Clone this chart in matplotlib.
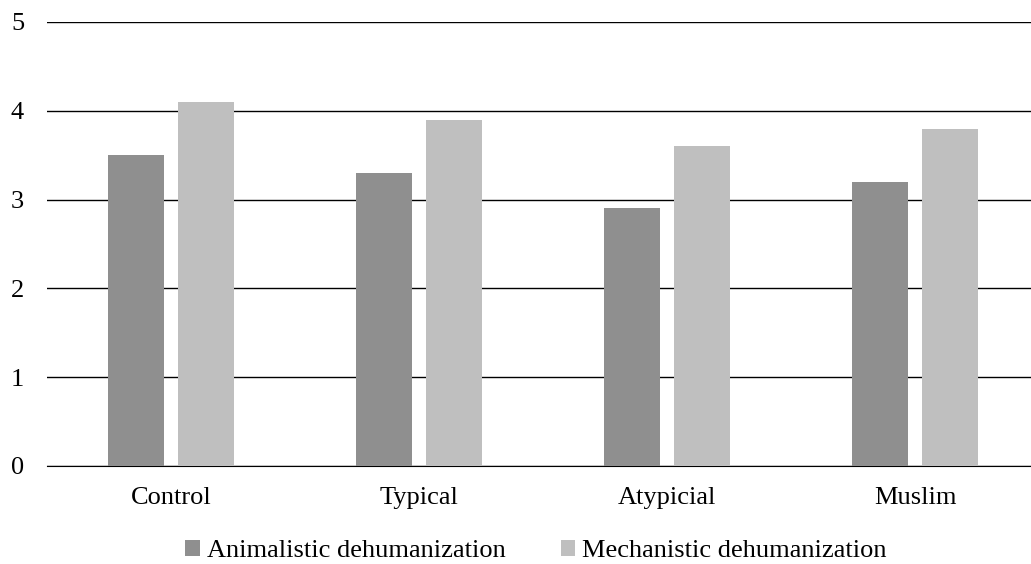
import numpy as np
import matplotlib.pyplot as plt

categories = ['Control', 'Typical', 'Atypicial', 'Muslim']
animalistic = [3.5, 3.3, 2.9, 3.2]
mechanistic = [4.1, 3.9, 3.6, 3.8]

plt.rcParams['font.family'] = ['Liberation Serif', 'DejaVu Serif']

fig = plt.figure(figsize=(10.31, 5.64), dpi=100)
ax = fig.add_axes([47 / 1031, 1 - 466 / 564, 992 / 1031, 444 / 564])

x = np.arange(len(categories))
w = 0.226
ax.bar(x - 0.143, animalistic, w, color='#8f8f8f', label='Animalistic dehumanization', zorder=3)
ax.bar(x + 0.143, mechanistic, w, color='#bfbfbf', label='Mechanistic dehumanization', zorder=3)

ax.set_xlim(-0.5, len(categories) - 0.5)
ax.set_ylim(0, 5)
ax.set_yticks(range(6))
ax.yaxis.grid(True, color='black', linewidth=1.0, zorder=0)
ax.set_xticks(x)
ax.set_xticklabels(categories, fontsize=19)
ax.tick_params(axis='y', labelsize=19, length=0, pad=16.5)
ax.tick_params(axis='x', length=0, pad=15)
for s in ['top', 'right', 'left']:
    ax.spines[s].set_visible(False)
ax.spines['bottom'].set_color('black')

fig.legend(*ax.get_legend_handles_labels(), loc='center', bbox_to_anchor=(536 / 1031, 1 - 551 / 564),
           ncol=2, frameon=False, fontsize=19, handlelength=0.55, handleheight=0.55,
           handletextpad=0.27, columnspacing=2.1, borderpad=0)

fig.savefig('out.png', dpi=100)
